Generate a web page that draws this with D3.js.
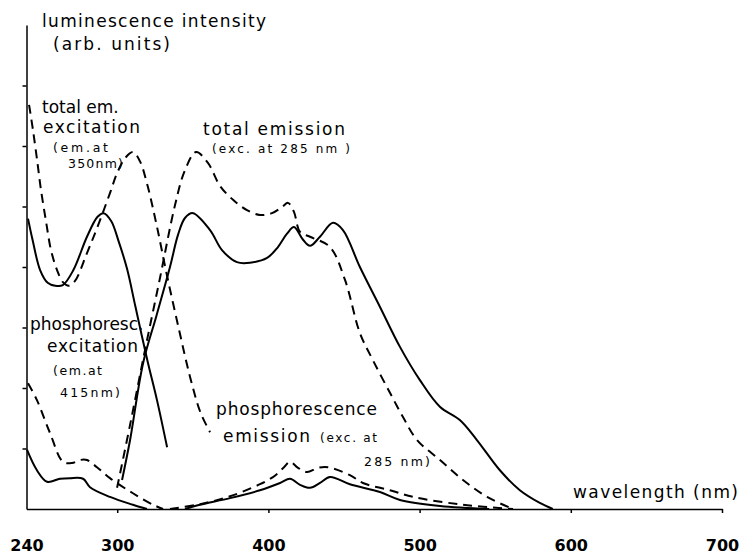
<!DOCTYPE html>
<html>
<head>
<meta charset="utf-8">
<script src="https://cdn.jsdelivr.net/npm/d3@7"></script>
<style>
  body { margin: 0; background: #fff; }
  text { font-family: "DejaVu Sans", sans-serif; fill: #000; }
</style>
</head>
<body>
<svg id="svg1" width="741" height="556"></svg>
<script>
// wavelength (nm), intensity (arb. units)
var exTotalSolid = [[241,4.8],[244,4.45],[249,3.95],[254,3.74],[259,3.69],[264,3.7],[271,3.95],[280,4.5],[287,4.83],[291,4.89],[296,4.76],[301,4.42],[306.5,3.97],[312,3.35],[320,2.45],[326.3,1.8],[333,1.02]];
var exTotalDashed = [[241.7,6.68],[244.3,6.26],[247,5.77],[249.6,5.27],[253,4.74],[256.2,4.28],[260.2,3.95],[264.1,3.75],[268.1,3.69],[272.1,3.77],[280,4.23],[286.6,4.64],[295.2,5.22],[299.9,5.55],[305.2,5.8],[310.4,5.9],[315,5.75],[320,5.35],[326,4.7],[333,3.85],[341,2.95],[348,2.2],[355,1.6],[361.4,1.27]];
var emTotalSolid = [[303.2,0.48],[308.5,1.14],[317.1,2.41],[326,3.2],[334.9,4.0],[340.2,4.53],[344.8,4.81],[350.1,4.89],[361.4,4.61],[369.3,4.28],[379.2,4.08],[387.8,4.07],[399.1,4.15],[406.3,4.33],[412.3,4.55],[416.9,4.66],[422.9,4.45],[427.5,4.35],[434.1,4.5],[442.7,4.73],[449.3,4.61],[460.5,4.0],[473.8,3.34],[487,2.68],[500.2,2.13],[513.4,1.69],[526.6,1.47],[537.9,1.14],[553.1,0.64],[566.3,0.31],[579.5,0.1],[588.1,0]];
var emTotalDashed = [[299.9,0.35],[308.5,1.39],[318.4,2.63],[328.3,3.82],[338.2,5.02],[344.8,5.6],[352.1,5.9],[360,5.72],[368,5.34],[376.6,5.11],[385.8,4.94],[394.4,4.86],[402.4,4.89],[409,4.99],[413,5.06],[416.9,4.91],[420.9,4.58],[427.5,4.5],[440.7,4.33],[450.6,3.79],[460.5,2.91],[469.1,2.46],[480.4,1.92],[489,1.52],[498.3,1.14],[513.5,0.81],[528.7,0.48],[544.6,0.2],[561.8,0]];
var exPhosSolid = [[240.3,0.98],[246.9,0.64],[253.6,0.45],[262.2,0.5],[268.8,0.51],[277.4,0.5],[282,0.36],[295.2,0.2],[310.4,0.07],[319.7,0]];
var exPhosDashed = [[241,2.08],[246.9,1.8],[255.5,1.26],[264.1,0.78],[270.1,0.76],[275.4,0.81],[280,0.81],[286.6,0.69],[295.2,0.51],[310.4,0.26],[323.7,0.07],[330.3,0]];
var emPhosSolid = [[344.8,0],[354.7,0.07],[374.6,0.18],[394.4,0.31],[407.7,0.43],[414.3,0.5],[420.9,0.4],[427.5,0.35],[434.1,0.43],[440.7,0.53],[453.9,0.41],[473.8,0.28],[487,0.15],[513.5,0.05],[546,0]];
var emPhosDashed = [[334.9,0],[354.7,0.08],[374.6,0.21],[394.4,0.41],[404.3,0.55],[410.3,0.69],[414.3,0.78],[419.6,0.68],[425.5,0.61],[432.8,0.68],[439.4,0.69],[453.9,0.56],[462.5,0.43],[480.4,0.31],[495.6,0.2],[528.7,0.07],[561.8,0]];

var xTicks = [240, 300, 400, 500, 600, 700];
var yTicks = [1, 2, 3, 4, 5, 6, 7];

var svg = d3.select('#svg1');

var x = d3.scaleLinear().domain([240, 700]).range([26.5, 722]);
var y = d3.scaleLinear().domain([0, 8]).range([509, 25]);

// x axis, labels sit well below the line
var xAxis = svg.append('g')
    .attr('transform', 'translate(0,' + y(0) + ')')
    .call(d3.axisBottom(x).tickValues(xTicks).tickSize(4).tickSizeOuter(0).tickPadding(27));
xAxis.selectAll('text')
    .attr('font-size', 16)
    .attr('font-weight', 'bold')
    .style('font-family', '"DejaVu Sans", sans-serif');
xAxis.select('.tick line').remove(); // no mark at origin

var yAxis = svg.append('g')
    .attr('transform', 'translate(' + x(240) + ',0)')
    .call(d3.axisLeft(y).tickValues(yTicks).tickSize(4).tickSizeOuter(0).tickFormat(''));

svg.selectAll('.domain, .tick line').attr('stroke', '#000').attr('stroke-width', 1.5);

var line = d3.line()
    .x(function(d) { return x(d[0]); })
    .y(function(d) { return y(d[1]); })
    .curve(d3.curveCatmullRom.alpha(0.5));

var curves = [
    {data: exTotalSolid, dash: null},
    {data: exTotalDashed, dash: '9,6'},
    {data: emTotalSolid, dash: null},
    {data: emTotalDashed, dash: '9,6'},
    {data: exPhosSolid, dash: null},
    {data: exPhosDashed, dash: '9,6'},
    {data: emPhosSolid, dash: null},
    {data: emPhosDashed, dash: '9,6'}
];

svg.selectAll('.curve')
    .data(curves)
    .enter()
    .append('path')
    .attr('class', 'curve')
    .attr('d', function(d) { return line(d.data); })
    .attr('fill', 'none')
    .attr('stroke', '#000')
    .attr('stroke-width', 2)
    .attr('stroke-dasharray', function(d) { return d.dash; });

// annotations: text, x, y, font size, width in the figure
var labels = [
    ['luminescence intensity', 42, 27, 17, 224],
    ['(arb. units)', 53, 50, 17, 117],
    ['total em.', 42, 113, 17, 68],
    ['excitation', 43, 133, 17, 97],
    ['(em.at', 53, 152, 12.5, 55],
    ['350nm)', 68, 168, 12.5, 55],
    ['total emission', 203, 135, 17, 142],
    ['(exc. at 285 nm )', 212, 153, 12, 138],
    ['phosphoresc.', 30, 330, 17, 108],
    ['excitation', 47, 352, 17, 91],
    ['(em.at', 53, 375, 12.5, 49],
    ['415nm)', 60, 397, 12.5, 60],
    ['phosphorescence', 216, 415, 17, 161],
    ['emission', 223, 442, 17, 87],
    ['(exc. at', 320, 442, 12, 57],
    ['285 nm)', 364, 466, 12.5, 66],
    ['wavelength (nm)', 573, 498, 17, 165]
];

svg.selectAll('.lab')
    .data(labels)
    .enter()
    .append('text')
    .attr('class', 'lab')
    .attr('x', function(d) { return d[1]; })
    .attr('y', function(d) { return d[2]; })
    .attr('font-size', function(d) { return d[3]; })
    .text(function(d) { return d[0]; })
    .each(function(d) {
        // only stretch the spacing, never squeeze the letters together
        if (this.getComputedTextLength() < d[4]) {
            d3.select(this).attr('textLength', d[4]).attr('lengthAdjust', 'spacing');
        }
    });
</script>
</body>
</html>
